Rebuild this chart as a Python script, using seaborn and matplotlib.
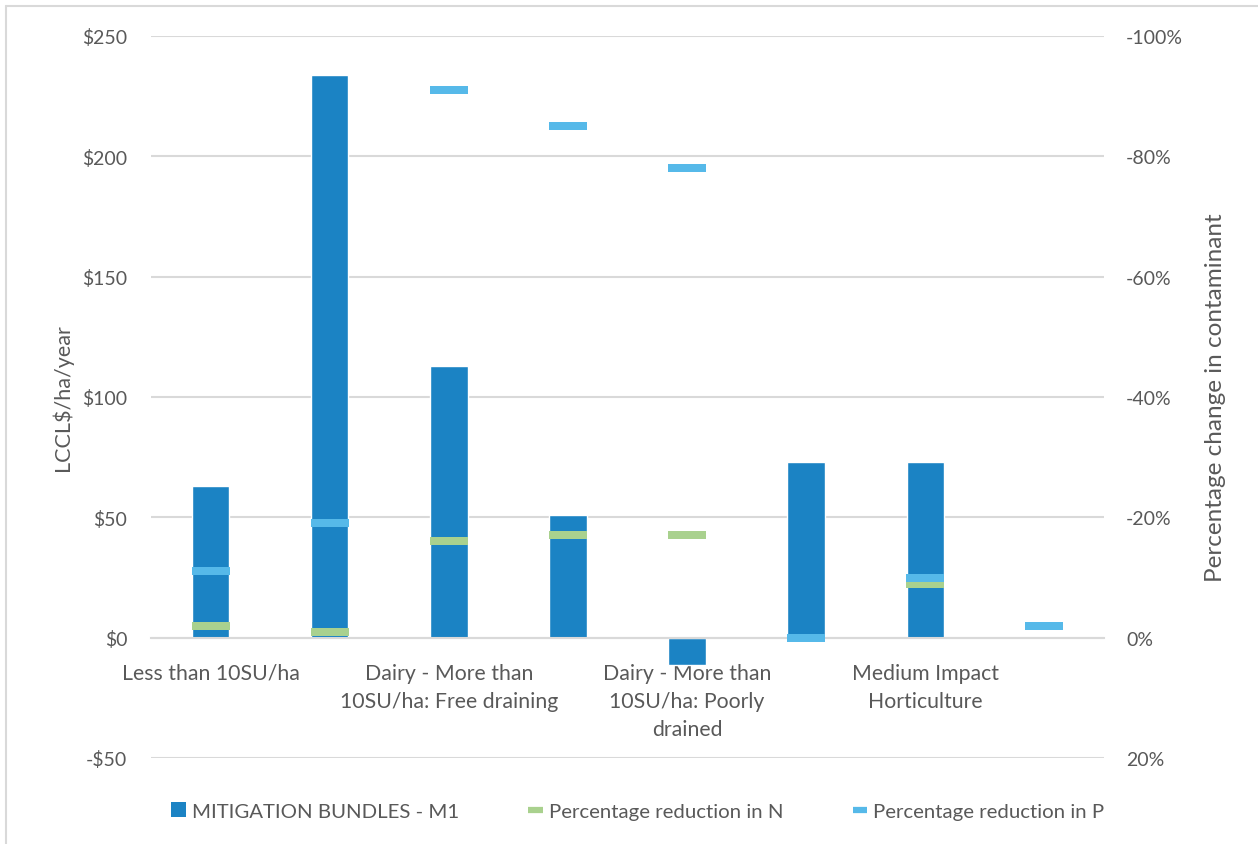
import numpy as np
import pandas as pd
import matplotlib
matplotlib.use("Agg")
import matplotlib.pyplot as plt
from matplotlib.lines import Line2D
from matplotlib.patches import Patch
import seaborn as sns

# chart data
tick_labels = [
    "Less than 10SU/ha",
    "",
    "Dairy - More than\n10SU/ha: Free draining",
    "",
    "Dairy - More than\n10SU/ha: Poorly\ndrained",
    "",
    "Medium Impact\nHorticulture",
    "",
]
bundle_cost = [63, 234, 113, 51, -11.5, 73, 73, np.nan]
reduction_n = [-2, -1, -16, -17, -17, np.nan, -9, np.nan]
reduction_p = [-11, -19, -91, -85, -78, 0, -10, -2]

left_ticks = [-50, 0, 50, 100, 150, 200, 250]
right_ticks = [20, 0, -20, -40, -60, -80, -100]

bar_color = "#1b83c4"
n_color = "#a9d18e"
p_color = "#56b9e9"
grid_color = "#d9d9d9"
text_color = "#595959"

sns.set_theme(style="white")
plt.rcParams["font.family"] = ["Lato", "DejaVu Sans"]
plt.rcParams["text.color"] = text_color
plt.rcParams["axes.labelcolor"] = text_color
plt.rcParams["xtick.color"] = text_color
plt.rcParams["ytick.color"] = text_color

df = pd.DataFrame({
    "cat": [f"c{i}" for i in range(len(tick_labels))],
    "cost": bundle_cost,
    "n": reduction_n,
    "p": reduction_p,
})

fig = plt.figure(figsize=(12.58, 8.45), dpi=100)
ax = fig.add_axes([151 / 1258, 1 - 759 / 845, (1104 - 151) / 1258, (759 - 37) / 845])

sns.barplot(data=df, x="cat", y="cost", color=bar_color, width=0.315,
            saturation=1, ax=ax, zorder=2)
ax.set_xlim(-0.5, len(tick_labels) - 0.5)
ax.set_ylim(-50, 250)
ax.spines["bottom"].set_position(("data", 0))
ax.spines["bottom"].set_color(grid_color)
ax.spines["bottom"].set_linewidth(1.5)
for side in ["top", "left", "right"]:
    ax.spines[side].set_visible(False)
ax.set_yticks(left_ticks)
ax.set_yticklabels([f"-${-v}" if v < 0 else f"${v}" for v in left_ticks])
ax.yaxis.grid(True, color=grid_color, linewidth=1.5, zorder=0)
ax.set_axisbelow(True)
ax.set_xticks(range(len(tick_labels)))
ax.set_xticklabels(tick_labels, linespacing=1.5)
ax.tick_params(axis="x", length=0, pad=18, labelsize=15.3)
ax.tick_params(axis="y", length=0, pad=17, labelsize=14)
ax.set_xlabel("")
ax.set_ylabel("LCCL$/ha/year", fontsize=15.5, labelpad=7)

# secondary axis for percentage change (reversed)
ax2 = ax.twinx()
dash = [(-1, -0.235), (1, -0.235), (1, 0.235), (-1, 0.235)]
x_pos = np.arange(len(tick_labels))
ax2.scatter(x_pos, df["n"], marker=dash, s=740, color=n_color, linewidths=0, zorder=3)
ax2.scatter(x_pos, df["p"], marker=dash, s=740, color=p_color, linewidths=0, zorder=4)
ax2.set_ylim(20, -100)
ax2.set_yticks(right_ticks)
ax2.set_yticklabels([f"{v}%" for v in right_ticks])
ax2.tick_params(axis="y", length=0, pad=16, labelsize=14)
for side in ["top", "left", "right", "bottom"]:
    ax2.spines[side].set_visible(False)
ax2.set_ylabel("Percentage change in contaminant", fontsize=17.5, labelpad=16)
ax2.grid(False)

handles = [
    Patch(facecolor=bar_color, edgecolor="none"),
    Line2D([0], [0], color=n_color, linewidth=4.5, solid_capstyle="butt"),
    Line2D([0], [0], color=p_color, linewidth=4.5, solid_capstyle="butt"),
]
labels = ["MITIGATION BUNDLES - M1", "Percentage reduction in N", "Percentage reduction in P"]
fig.legend(handles, labels, loc="center", bbox_to_anchor=(0.507, 1 - 812 / 845),
           ncol=3, frameon=False, fontsize=14.7, handlelength=0.7, handleheight=0.7,
           handletextpad=0.3, columnspacing=3.4)

# chart border
fig.add_artist(Line2D([6 / 1258, 6 / 1258], [0, 1 - 7 / 845], color=grid_color,
                      linewidth=1.5, transform=fig.transFigure))
fig.add_artist(Line2D([6 / 1258, 1], [1 - 7 / 845, 1 - 7 / 845], color=grid_color,
                      linewidth=1.5, transform=fig.transFigure))

fig.savefig("out.png", dpi=100, facecolor="white")
